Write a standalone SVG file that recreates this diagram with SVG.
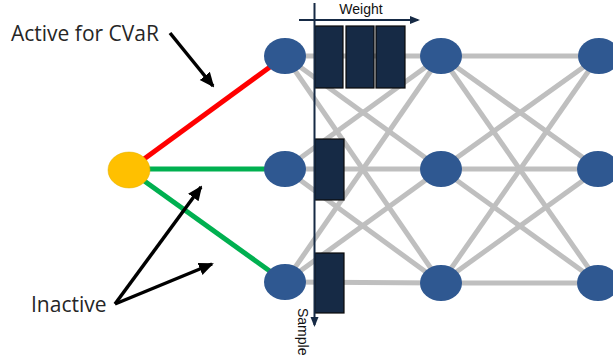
<svg xmlns="http://www.w3.org/2000/svg" width="613" height="356" viewBox="0 0 613 356">
<style>
.e{stroke:#bfbfbf;stroke-width:5;fill:none}
.n{fill:#2f5891}
.w{fill:#162a45;stroke:#0a0a0a;stroke-width:1.2}
.ax{stroke:#162a45;stroke-width:2;fill:none}
.pt{stroke:#000;stroke-width:3.5;fill:none}
.lbl{font-family:"Open Sans","Noto Sans",sans-serif;fill:#262626}
.sm{font-family:"Liberation Sans",Arial,sans-serif;font-size:14px;fill:#111}
</style>
<defs>
<marker id="aa" markerWidth="10" markerHeight="10" refX="8" refY="5" orient="auto" markerUnits="userSpaceOnUse" viewBox="0 0 10 10">
<path d="M0,1 L10,5 L0,9 z" fill="#162a45"/>
</marker>
<marker id="ab" markerWidth="15" markerHeight="15" refX="13" refY="7.5" orient="auto" markerUnits="userSpaceOnUse" viewBox="0 0 15 15">
<path d="M0,1 L15,7.5 L0,14 z" fill="#000"/>
</marker>
</defs>
<g id="connectors">
<g id="gray-edges">
<line class="e" x1="285" y1="56" x2="441" y2="56"/>
<line class="e" x1="285" y1="56" x2="441" y2="169"/>
<line class="e" x1="285" y1="56" x2="441" y2="283"/>
<line class="e" x1="285" y1="169" x2="441" y2="56"/>
<line class="e" x1="285" y1="169" x2="441" y2="169"/>
<line class="e" x1="285" y1="169" x2="441" y2="283"/>
<line class="e" x1="285" y1="282" x2="441" y2="56"/>
<line class="e" x1="285" y1="282" x2="441" y2="169"/>
<line class="e" x1="285" y1="282" x2="441" y2="283"/>
<line class="e" x1="441" y1="56" x2="599" y2="56"/>
<line class="e" x1="441" y1="56" x2="599" y2="169"/>
<line class="e" x1="441" y1="56" x2="599" y2="283"/>
<line class="e" x1="441" y1="169" x2="599" y2="56"/>
<line class="e" x1="441" y1="169" x2="599" y2="169"/>
<line class="e" x1="441" y1="169" x2="599" y2="283"/>
<line class="e" x1="441" y1="283" x2="599" y2="56"/>
<line class="e" x1="441" y1="283" x2="599" y2="169"/>
<line class="e" x1="441" y1="283" x2="599" y2="283"/>
</g>
<line id="red" x1="129" y1="170" x2="285" y2="56" stroke="#ff0000" stroke-width="5"/>
<line id="green1" x1="129" y1="169" x2="285" y2="169" stroke="#00b050" stroke-width="5"/>
<line id="green2" x1="129" y1="170" x2="285" y2="282" stroke="#00b050" stroke-width="5"/>
<line class="pt" x1="170" y1="33" x2="213" y2="86" marker-end="url(#ab)"/>
<line class="pt" x1="115" y1="304" x2="201" y2="187" marker-end="url(#ab)"/>
<line class="pt" x1="115" y1="304" x2="212" y2="264" marker-end="url(#ab)"/>
</g>
<g id="input"><ellipse cx="129" cy="170" rx="21" ry="18" fill="#ffc000" stroke="#e0b000" stroke-width="0.5"/></g>
<g id="l1n1"><ellipse class="n" cx="285" cy="56" rx="21" ry="18"/></g>
<g id="l1n2"><ellipse class="n" cx="285" cy="169" rx="21" ry="18"/></g>
<g id="l1n3"><ellipse class="n" cx="285" cy="282" rx="21" ry="18"/></g>
<g id="l2n1"><ellipse class="n" cx="441" cy="56" rx="21" ry="18"/></g>
<g id="l2n2"><ellipse class="n" cx="441" cy="169" rx="21" ry="18"/></g>
<g id="l2n3"><ellipse class="n" cx="441" cy="283" rx="21" ry="18"/></g>
<g id="l3n1"><ellipse class="n" cx="599" cy="56" rx="21" ry="18"/></g>
<g id="l3n2"><ellipse class="n" cx="598" cy="169" rx="21" ry="18"/></g>
<g id="l3n3"><ellipse class="n" cx="598" cy="283" rx="21" ry="18"/></g>
<g id="weights">
<rect class="w" x="315" y="26" width="28" height="62"/>
<rect class="w" x="346" y="26" width="28" height="62"/>
<rect class="w" x="376" y="26" width="29" height="62"/>
<rect class="w" x="315" y="139" width="29" height="61"/>
<rect class="w" x="315" y="253" width="29" height="60"/>
</g>
<g id="axes">
<line class="ax" x1="299" y1="20" x2="418" y2="20" marker-end="url(#aa)"/>
<line class="ax" x1="314.5" y1="3" x2="314.5" y2="325" marker-end="url(#aa)"/>
<text class="sm" x="361" y="14" text-anchor="middle">Weight</text>
<text class="sm" transform="translate(298,308) rotate(90)">Sample</text>
</g>
<g id="labels">
<text class="lbl" x="11" y="41" font-size="21">Active for CVaR</text>
<text class="lbl" x="31" y="312" font-size="21">Inactive</text>
</g>
</svg>
